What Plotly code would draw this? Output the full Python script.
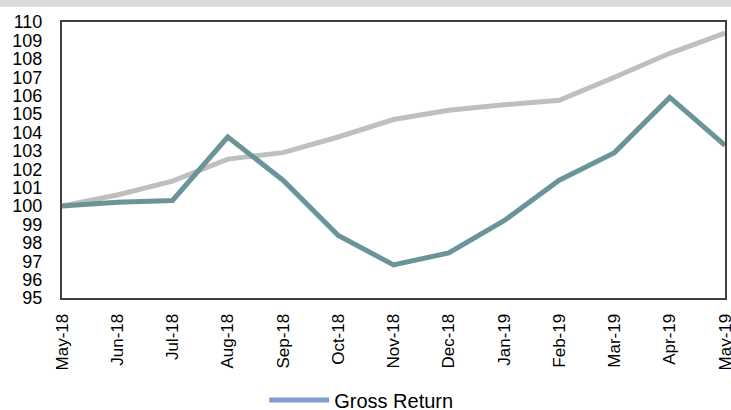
import plotly.graph_objects as go

months = ["May-18", "Jun-18", "Jul-18", "Aug-18", "Sep-18", "Oct-18", "Nov-18",
          "Dec-18", "Jan-19", "Feb-19", "Mar-19", "Apr-19", "May-19"]
gross_return = [100.0, 100.2, 100.3, 103.75, 101.4, 98.4, 96.8, 97.45, 99.2,
                101.4, 102.9, 105.9, 103.3]
benchmark = [100.0, 100.6, 101.35, 102.55, 102.9, 103.75, 104.7, 105.2, 105.5,
             105.75, 107.0, 108.3, 109.4]
y_ticks = list(range(95, 111))

fig = go.Figure()
fig.add_trace(go.Scatter(x=months, y=benchmark, mode="lines",
                         line=dict(color="#BDBFC1", width=5), showlegend=False))
fig.add_trace(go.Scatter(x=months, y=gross_return, mode="lines",
                         line=dict(color="#6A9497", width=5), showlegend=False))
fig.add_trace(go.Scatter(x=[None], y=[None], mode="lines", name="Gross Return",
                         line=dict(color="#7E9FC9", width=5)))

fig.update_layout(
    width=731, height=410,
    margin=dict(l=62, r=6, t=22, b=112, autoexpand=False),
    paper_bgcolor="white", plot_bgcolor="white",
    font=dict(family="Liberation Sans, Arial, sans-serif", size=17, color="black"),
    legend=dict(orientation="h", x=0.305, xanchor="left", y=-0.37, yanchor="middle",
                font=dict(size=20), itemwidth=60, bgcolor="rgba(0,0,0,0)"),
    xaxis=dict(type="category", tickangle=-90, showgrid=False, range=[0, 12],
               showline=True, linecolor="#404040", linewidth=2, mirror=True,
               ticks="", tickfont=dict(size=17), automargin=False,
               ticklabelstandoff=7),
    yaxis=dict(range=[95, 110], tickvals=y_ticks, showgrid=False,
               showline=True, linecolor="#404040", linewidth=2, mirror=True,
               ticks="", tickfont=dict(size=18), automargin=False,
               ticklabelstandoff=14),
    shapes=[dict(type="rect", xref="paper", yref="paper", x0=-0.1, x1=1.02,
                 y0=1.055, y1=1.09, fillcolor="#D9DCDE", line=dict(width=0),
                 layer="below")],
)
fig.write_html("out.html", config={"displayModeBar": False},
               post_script="document.body.style.margin='0px';")
